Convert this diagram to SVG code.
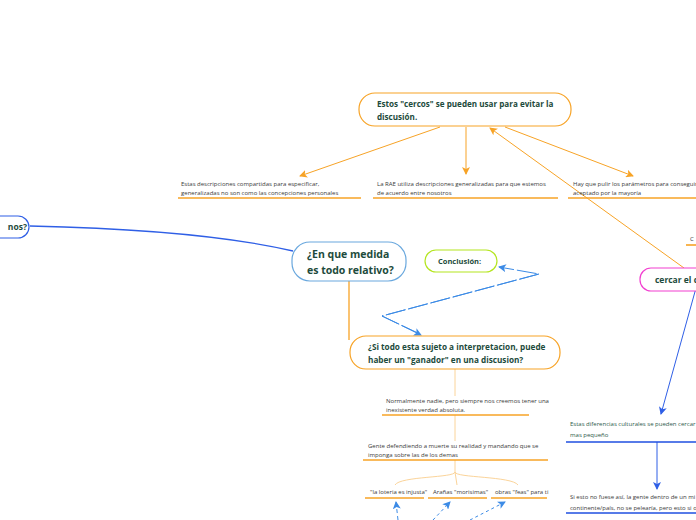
<svg xmlns="http://www.w3.org/2000/svg" width="696" height="520" viewBox="0 0 696 520">
<style>
.nt{font-family:"Open Sans","Noto Sans",sans-serif;font-weight:bold;fill:#1d4b3c}
.st{font-family:"Open Sans","Noto Sans",sans-serif;font-size:6px;fill:#3a3a3a}
.ul{stroke:#f7a326;stroke-width:1.6;fill:none}
.ub{stroke:#1f4fe0;stroke-width:1.6;fill:none}
.or{stroke:#f7a326;stroke-width:1;fill:none}
.lo{stroke:#fbd49a;stroke-width:1;fill:none}
.bd{stroke:#3c8be6;stroke-width:1;fill:none}
</style>
<defs>
<marker id="ao" markerWidth="8" markerHeight="8" refX="7" refY="4" orient="auto" markerUnits="userSpaceOnUse"><path d="M0,0 L8,4 L0,8 L2,4 Z" fill="#f7a326"/></marker>
<marker id="ab" markerWidth="8" markerHeight="8" refX="7" refY="4" orient="auto" markerUnits="userSpaceOnUse"><path d="M0,0 L8,4 L0,8 L2,4 Z" fill="#3c8be6"/></marker>
<marker id="ad" markerWidth="8" markerHeight="8" refX="7" refY="4" orient="auto" markerUnits="userSpaceOnUse"><path d="M0,0 L8,4 L0,8 L2,4 Z" fill="#2f5fe6"/></marker>
</defs>
<rect width="696" height="520" fill="#fff"/>
<g id="connectors">
<path class="or" d="M440,127 L300,176" marker-end="url(#ao)"/>
<path class="or" d="M466,127 L466,174" marker-end="url(#ao)"/>
<path class="or" d="M505,127 L633,176" marker-end="url(#ao)"/>
<path class="or" d="M684,268 L490,128" marker-end="url(#ao)"/>
<path d="M30,226 C120,228 220,234 293,251" stroke="#2f5fe6" stroke-width="1.3" fill="none"/>
<path d="M349,281 L349,340" stroke="#f7a326" stroke-width="1.3" fill="none"/>
<path class="bd" d="M420,334 L382,316 L539,274 L499,267" stroke-dasharray="20 3" marker-end="url(#ab)"/>
<path class="bd" d="M539,274 L382,316 L421,335" stroke-dasharray="20 3" marker-end="url(#ab)"/>
<path class="lo" d="M455,369 L455,396"/>
<path class="lo" d="M455,415 L455,441"/>
<path class="lo" d="M455,460 L455,472 C455,478 400,476 395,485"/>
<path class="lo" d="M455,472 L457,485"/>
<path class="lo" d="M455,472 C455,478 512,476 518,485"/>
<path class="bd" d="M398,520 L396,502" stroke-dasharray="4 3" marker-end="url(#ab)"/>
<path class="bd" d="M433,520 L450,502" stroke-dasharray="3 3" marker-end="url(#ab)"/>
<path class="bd" d="M470,520 L505,502" stroke-dasharray="3 3" marker-end="url(#ab)"/>
<path d="M696,288 L661,414" stroke="#2f5fe6" stroke-width="1" fill="none" marker-end="url(#ad)"/>
<path d="M657,442 L657,489" stroke="#2f5fe6" stroke-width="1" fill="none" marker-end="url(#ad)"/>
</g>
<g id="n-cercos">
<rect x="359" y="93" width="212" height="33" rx="16" fill="#fff" stroke="#f7a326" stroke-width="1.2"/>
<text class="nt" font-size="8.1"><tspan x="377" y="107">Estos "cercos" se pueden usar para evitar la</tspan><tspan x="377" y="120">discusión.</tspan></text>
</g>
<g id="s1">
<text class="st"><tspan x="181" y="186">Estas descripciones compartidas para especificar,</tspan><tspan x="181" y="195">generalizadas no son como las concepciones personales</tspan></text>
<path class="ul" d="M178,198 L361,198"/>
</g>
<g id="s2">
<text class="st"><tspan x="377" y="186">La RAE utiliza descripciones generalizadas para que estemos</tspan><tspan x="377" y="195">de acuerdo entre nosotros</tspan></text>
<path class="ul" d="M373,198 L558,198"/>
</g>
<g id="s3">
<text class="st"><tspan x="573" y="186">Hay que pulir los parámetros para conseguir</tspan><tspan x="573" y="195">aceptado por la mayoría</tspan></text>
<path class="ul" d="M568,198 L696,198"/>
</g>
<g id="n-left">
<rect x="-60" y="216" width="89" height="22" rx="11" fill="#fff" stroke="#2f5fe6" stroke-width="1.2"/>
<text class="nt" font-size="8.5" x="27" y="230" text-anchor="end">nos?</text>
</g>
<g id="n-relativo">
<rect x="292" y="242" width="114" height="39" rx="18" fill="#fff" stroke="#6aa8de" stroke-width="1.2"/>
<text class="nt" font-size="10.5"><tspan x="307" y="258">¿En que medida</tspan><tspan x="307" y="274">es todo relativo?</tspan></text>
</g>
<g id="n-conclusion">
<rect x="425" y="250" width="72" height="22" rx="11" fill="#fff" stroke="#b4e51f" stroke-width="1.2"/>
<text class="nt" font-size="7.5" x="438" y="264">Conclusión:</text>
</g>
<g id="n-ganador">
<rect x="350" y="336" width="210" height="33" rx="16" fill="#fff" stroke="#f7a326" stroke-width="1.2"/>
<text class="nt" font-size="8.2"><tspan x="368" y="350">¿Si todo esta sujeto a interpretacion, puede</tspan><tspan x="368" y="363">haber un "ganador" en una discusion?</tspan></text>
</g>
<g id="s-normal">
<text class="st"><tspan x="386" y="403">Normalmente nadie, pero siempre nos creemos tener una</tspan><tspan x="386" y="412">inexistente verdad absoluta.</tspan></text>
<path class="ul" d="M382,415 L529,415"/>
</g>
<g id="s-gente">
<text class="st"><tspan x="368" y="448">Gente defendiendo a muerte su realidad y mandando que se</tspan><tspan x="368" y="457">imponga sobre las de los demas</tspan></text>
<path class="ul" d="M363,460 L548,460"/>
</g>
<g id="s-loteria">
<text class="st" x="370" y="494">"la loteria es injusta"</text>
<path class="ul" d="M365,498 L424,498"/>
</g>
<g id="s-aranas">
<text class="st" x="433" y="494">Arañas "morisimas"</text>
<path class="ul" d="M428,498 L487,498"/>
</g>
<g id="s-obras">
<text class="st" x="495" y="494">obras "feas" para ti</text>
<path class="ul" d="M491,498 L547,498"/>
</g>
<g id="s-c">
<text class="st" x="690" y="241">C</text>
<path class="ul" d="M686,245 L696,245"/>
</g>
<g id="n-cercar">
<rect x="640" y="268" width="100" height="23" rx="11" fill="#fff" stroke="#f23fd0" stroke-width="1.2"/>
<text class="nt" font-size="8.5" x="655" y="283">cercar el c</text>
</g>
<g id="s-diferencias">
<text class="st" style="fill:#2e5a4a"><tspan x="570" y="426">Estas diferencias culturales se pueden cercar</tspan><tspan x="570" y="437">mas pequeño</tspan></text>
<path class="ub" d="M566,442 L696,442"/>
</g>
<g id="s-siesto">
<text class="st"><tspan x="570" y="499">Si esto no fuese así, la gente dentro de un mi</tspan><tspan x="570" y="510">continente/país, no se pelearía, pero esto si o</tspan></text>
<path class="ub" d="M566,513 L696,513"/>
</g>
</svg>
